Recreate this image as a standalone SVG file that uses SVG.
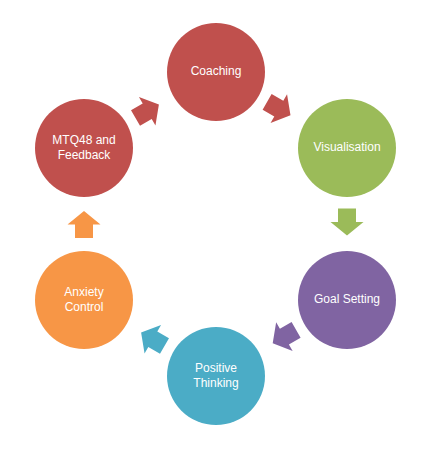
<svg xmlns="http://www.w3.org/2000/svg" width="444" height="459" viewBox="0 0 444 459">
<style>
.lbl{font-family:"Liberation Sans",Arial,sans-serif;font-size:12px;fill:#ffffff;text-anchor:middle;dominant-baseline:central}
.red{fill:#C0504D}.green{fill:#9BBB59}.purple{fill:#8064A2}.teal{fill:#4BACC6}.orange{fill:#F79646}
</style>
<defs>
<path id="arr" d="M-13.5,-9 L0,-9 L0,-16.5 L13.5,0 L0,16.5 L0,9 L-13.5,9 Z"/>
</defs>
<rect width="444" height="459" fill="#ffffff"/>
<g id="connectors">
<use href="#arr" class="red" transform="translate(147.2,111.3) rotate(-30)"/>
<use href="#arr" class="red" transform="translate(278.8,108.6) rotate(30)"/>
<use href="#arr" class="green" transform="translate(347,222) rotate(90)"/>
<use href="#arr" class="purple" transform="translate(284.4,336.6) rotate(150)"/>
<use href="#arr" class="teal" transform="translate(152.8,339.2) rotate(210)"/>
<use href="#arr" class="orange" transform="translate(84,224.5) rotate(-90)"/>
</g>
<g id="coaching"><circle class="red" cx="216" cy="72" r="49"/><text class="lbl" x="216" y="71">Coaching</text></g>
<g id="visualisation"><circle class="green" cx="347" cy="148" r="49"/><text class="lbl" x="347" y="147">Visualisation</text></g>
<g id="goal-setting"><circle class="purple" cx="347" cy="300" r="49"/><text class="lbl" x="347" y="299">Goal Setting</text></g>
<g id="positive-thinking"><circle class="teal" cx="216" cy="376" r="49"/><text class="lbl" x="216" y="368">Positive</text><text class="lbl" x="216" y="383">Thinking</text></g>
<g id="anxiety-control"><circle class="orange" cx="84" cy="300" r="49"/><text class="lbl" x="84" y="292">Anxiety</text><text class="lbl" x="84" y="307">Control</text></g>
<g id="mtq48"><circle class="red" cx="84" cy="148" r="49"/><text class="lbl" x="84" y="140">MTQ48 and</text><text class="lbl" x="84" y="155">Feedback</text></g>
</svg>
